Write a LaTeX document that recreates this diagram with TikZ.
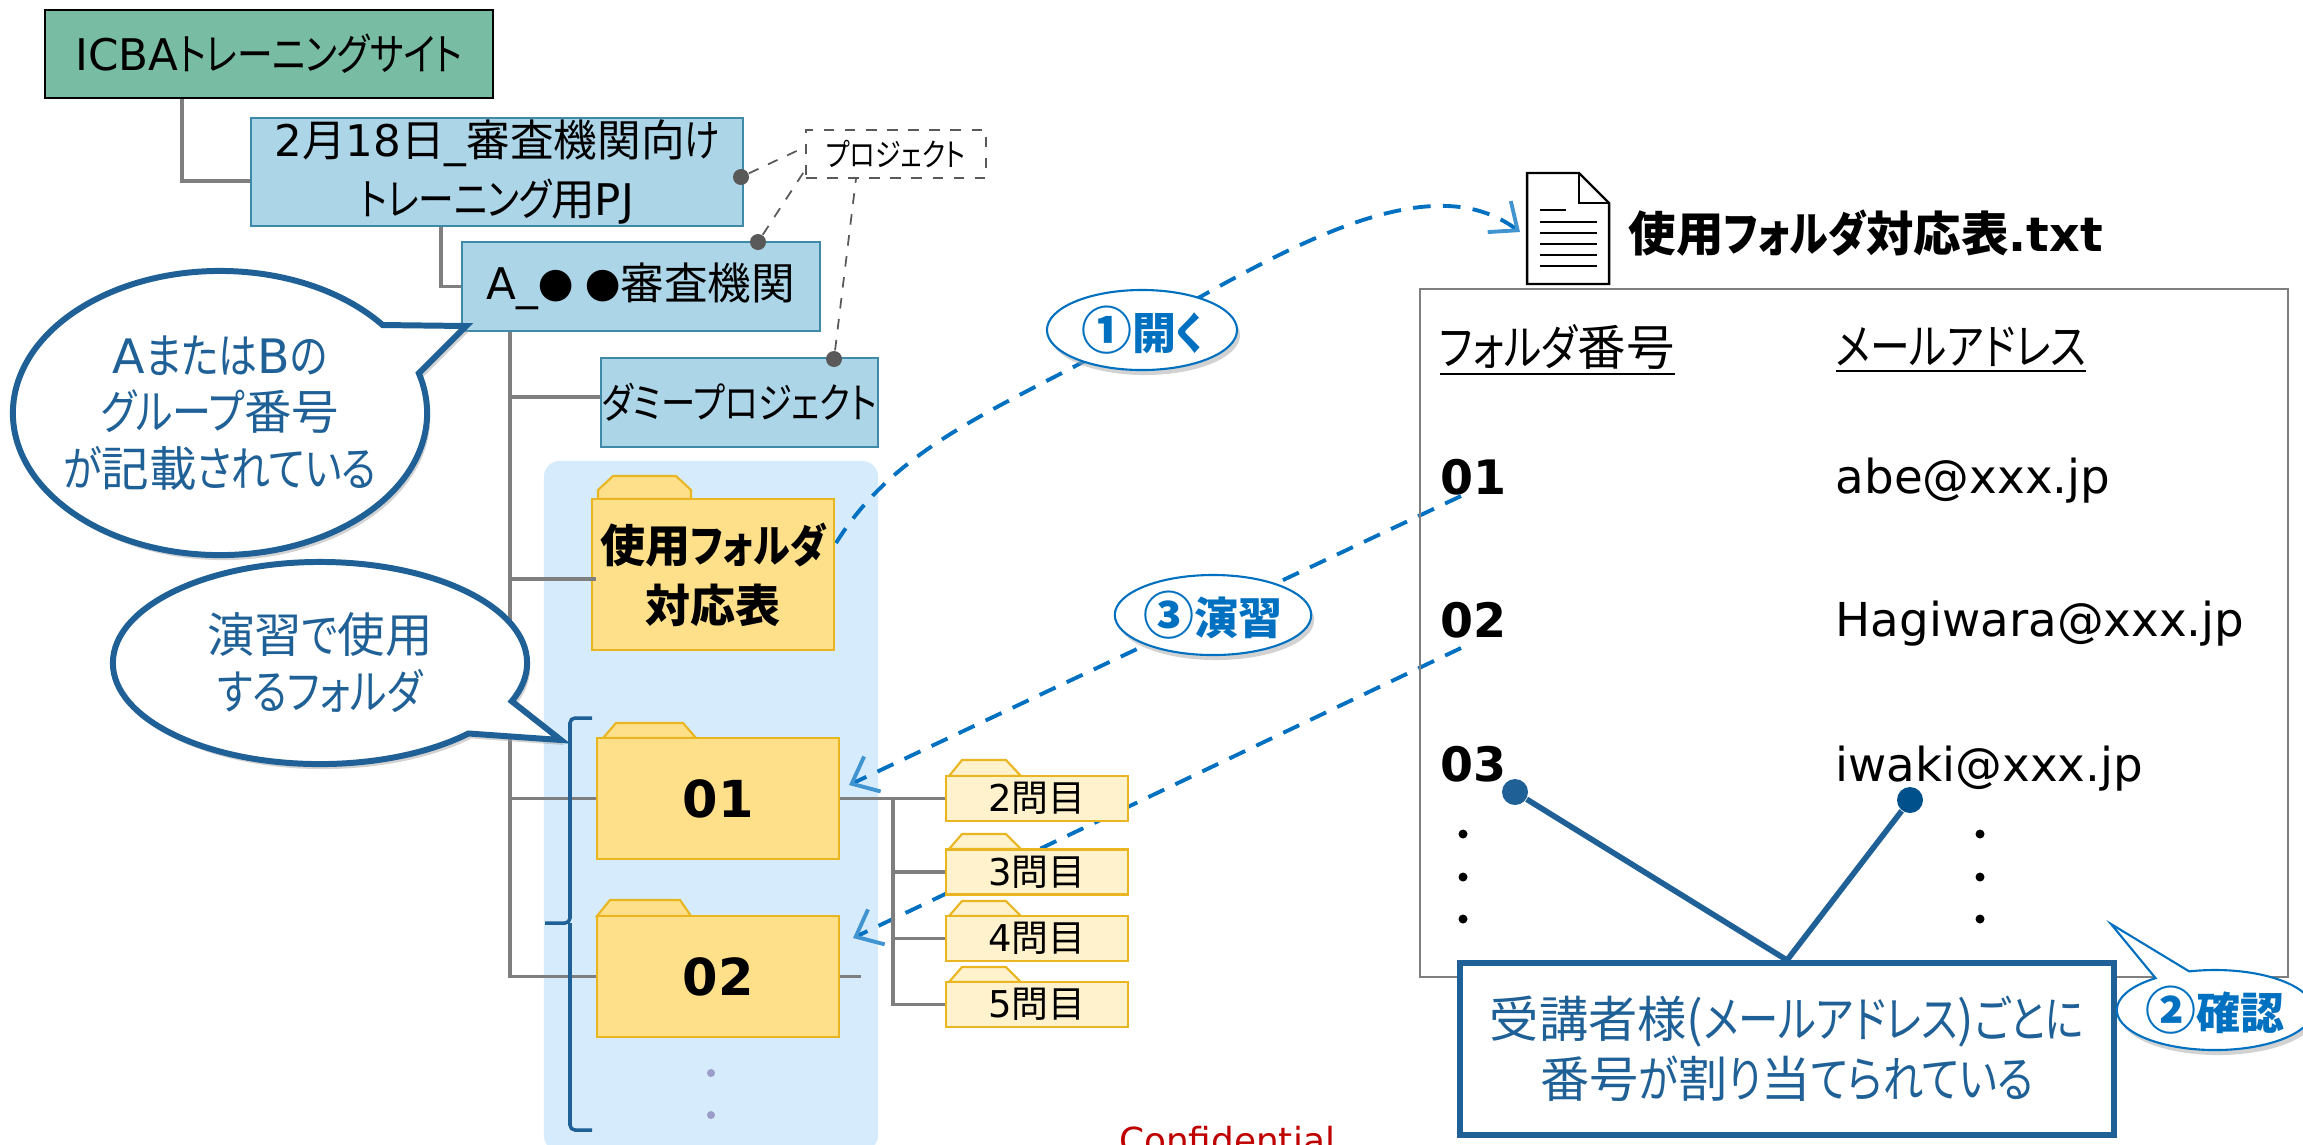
\documentclass[tikz,border=0pt]{standalone}
\usepackage{fontspec}
\setmainfont{Noto Sans CJK JP}[RawFeature=+palt]
\newfontfamily\vd{DejaVu Sans}
\newfontfamily\ka{Noto Sans CJK JP}[FakeStretch=0.82,RawFeature=+palt]
\usepackage{tikz}
\usetikzlibrary{positioning,arrows.meta,shapes.callouts,shapes.geometric,shadows}
\definecolor{treegray}{HTML}{7F7F7F}
\definecolor{notegray}{HTML}{595959}
\definecolor{icbagreen}{HTML}{78BCA4}
\definecolor{pjblue}{HTML}{ADD5E8}
\definecolor{pjedge}{HTML}{3F8AA8}
\definecolor{panelblue}{HTML}{D6EBFC}
\definecolor{foldergold}{HTML}{E9B520}
\definecolor{folderfill}{HTML}{FFE08A}
\definecolor{foldersoft}{HTML}{FFF2CC}
\definecolor{noteblue}{HTML}{1F6096}
\definecolor{markblue}{HTML}{00508C}
\definecolor{stepblue}{HTML}{0070C0}

\begin{document}
\begin{tikzpicture}[x=0.01cm,y=-0.01cm,
	treeline/.style={draw=treegray,line width=1pt},
	pjbox/.style={rectangle,draw=pjedge,fill=pjblue,line width=0.5pt,inner sep=0pt,align=center,font=\fontsize{12.4}{16.6}\selectfont},
	pjdot/.style={circle,fill=notegray,inner sep=0pt,minimum size=0.16cm},
	pjnote/.style={draw=notegray,dashed,line width=0.5pt},
	bigfolder/.style={rectangle,draw=foldergold,fill=folderfill,line width=0.6pt,inner sep=0pt,minimum width=2.42cm,align=center},
	smallfolder/.style={rectangle,draw=foldergold,fill=foldersoft,line width=0.6pt,inner sep=0pt,minimum width=1.82cm,minimum height=0.45cm,font=\fontsize{10.5}{12}\selectfont},
	bigtab/.style={draw=foldergold,fill=folderfill,line width=0.6pt},
	smalltab/.style={draw=foldergold,fill=foldersoft,line width=0.6pt},
	bubble/.style={ellipse callout,draw=noteblue,fill=white,line width=1.7pt,inner xsep=-0.6cm,inner ysep=0pt,callout pointer arc=22,text=noteblue,align=center,font=\fontsize{13.5}{16.2}\selectfont,drop shadow={shadow xshift=0.03cm,shadow yshift=-0.05cm,fill=gray!70}},
	stepbubble/.style={ellipse,draw=stepblue,fill=white,line width=0.6pt,inner sep=0pt,callout pointer arc=22,minimum width=1.9cm,minimum height=0.8cm,text=stepblue,font=\bfseries\fontsize{12.5}{14}\selectfont,drop shadow={shadow xshift=0.03cm,shadow yshift=-0.05cm,fill=gray!70}},
	stepline/.style={draw=stepblue,dash pattern=on 5pt off 3.5pt,line width=1.1pt,-{Straight Barb[length=6.5pt,width=11pt,color=stepblue!75!white,line width=1.1pt]}},
	tabletext/.style={anchor=west,inner sep=0pt,font=\fontsize{13.8}{15}\selectfont},
	tabledot/.style={circle,fill=black,inner sep=0pt,minimum size=0.09cm},
	markdot/.style={circle,fill=noteblue,inner sep=0pt,minimum size=0.26cm},
	markline/.style={draw=noteblue,line width=1.6pt}]

	\useasboundingbox (0,0) rectangle (2303,1144);

	% panel behind the folders
	\node [rectangle,fill=panelblue,rounded corners=0.16cm,inner sep=0pt,minimum width=3.34cm,minimum height=6.90cm] (panel) at (711,806) {};

	% tree of projects
	\node [pjbox,fill=icbagreen,draw=black,minimum width=4.48cm,minimum height=0.88cm] (icba) at (269,54) {{\vd ICBA}{\ka トレーニングサイト}};
	\node [pjbox,minimum width=4.92cm,minimum height=1.08cm] (pj) at (497,172) {{\vd 2}月{\vd 18}日{\vd\_}審査機関向{\ka け}\\{\ka トレーニング}用{\vd PJ}};
	\node [pjbox,minimum width=3.58cm,minimum height=0.89cm] (agency) at (641,286.5) {{\vd A\_}{\fontsize{10}{12}\selectfont ●\,\,●}審査機関};
	\node [pjbox,minimum width=2.77cm,minimum height=0.89cm,font=\ka\fontsize{11.9}{14}\selectfont] (dummy) at (739.5,402.5) {ダミープロジェクト};
	\node [rectangle,draw=notegray,dashed,fill=white,line width=0.5pt,inner sep=0pt,minimum width=1.80cm,minimum height=0.48cm,font=\ka\fontsize{9}{10}\selectfont] (pjlabel) at (896,154) {プロジェクト};

	\node [pjdot] (dot1) at (741,177) {};
	\node [pjdot] (dot2) at (758,242) {};
	\node [pjdot] (dot3) at (834,359) {};
	\draw [pjnote] (dot1) to ([yshift=0.07cm]pjlabel.west);
	\draw [pjnote] (dot2) to ([yshift=-0.16cm]pjlabel.west);
	\draw [pjnote] (dot3) to ([xshift=-0.40cm]pjlabel.south);

	% dashed steps, under the small folders
	\coordinate (open0) at (836,543);
	\coordinate (open1) at (1142,330);
	\coordinate (open2) at (1520,232);
	\coordinate (row1) at (1461,496);
	\coordinate (row2) at (1461,648);
	\coordinate (hit1) at (849,785);
	\coordinate (hit2) at (853,938);
	\draw [stepline,-] (open0) .. controls (900,440) and (1010,405) .. (open1);
	\draw [stepline] (open1) .. controls (1290,245) and (1430,165) .. (open2);
	\draw [stepline] (row1) to (hit1);
	\draw [stepline] (row2) to (hit2);

	% folders
	\draw [bigtab] (598,499) -- (598,490) -- (613,476) -- (676,476) -- (691,490) -- (691,499) -- cycle;
	\node [bigfolder,minimum height=1.51cm,font=\bfseries\fontsize{12.8}{17}\selectfont] (usefolder) at (713,574.5) {使用{\ka フォルダ}\\対応表};
	\draw [bigtab] (603,738) -- (616,723) -- (683,723) -- (696,738) -- cycle;
	\node [bigfolder,minimum height=1.21cm,font=\vd\bfseries\fontsize{14.5}{18}\selectfont] (f01) at (718,798.5) {01};
	\draw [bigtab] (597,916) -- (610,900) -- (680,900) -- (691,916) -- cycle;
	\node [bigfolder,minimum height=1.21cm,font=\vd\bfseries\fontsize{14.5}{18}\selectfont] (f02) at (718,976.5) {02};

	\draw [smalltab] (949,776) -- (962,760) -- (1006,760) -- (1021,776) -- cycle;
	\node [smallfolder] (q2) at (1037,798.5) {{\vd 2}問目};
	\draw [smalltab] (949,849) -- (962,834) -- (1006,834) -- (1021,849) -- cycle;
	\node [smallfolder] (q3) at (1037,872) {{\vd 3}問目};
	\draw [smalltab] (949,916) -- (962,901) -- (1006,901) -- (1021,916) -- cycle;
	\node [smallfolder] (q4) at (1037,938.5) {{\vd 4}問目};
	\draw [smalltab] (949,982) -- (962,967) -- (1006,967) -- (1021,982) -- cycle;
	\node [smallfolder] (q5) at (1037,1004.5) {{\vd 5}問目};

	\coordinate (stub) at (861,976.5);

	\draw [treeline] ([xshift=-0.87cm]icba.south) |- ([yshift=-0.09cm]pj.west);
	\draw [treeline] ([xshift=-0.56cm]pj.south) |- (agency.west);
	\draw [treeline] ([xshift=-1.31cm]agency.south) |- (f02.west);
	\draw [treeline] ([xshift=-1.31cm]agency.south) |- ([yshift=0.055cm]dummy.west);
	\draw [treeline] ([xshift=-1.31cm]agency.south) |- ([xshift=0.05cm,yshift=-0.045cm]usefolder.west);
	\draw [treeline] ([xshift=-1.31cm]agency.south) |- (f01.west);
	\draw [treeline] (f01.east) to (q2.west);
	\draw [treeline] ([xshift=0.53cm]f01.east) |- (q3.west);
	\draw [treeline] ([xshift=0.53cm]f01.east) |- (q4.west);
	\draw [treeline] ([xshift=0.53cm]f01.east) |- (q5.west);
	\draw [treeline] (f02.east) to (stub);

	% brace and the two dots under the folders
	\coordinate (bracetop) at (592,718);
	\coordinate (bracebot) at (592,1130);
	\coordinate (bracetip) at (545,923);
	\draw [draw=noteblue,line width=1pt,rounded corners=0.05cm] (bracetop) -| (570,923) -- (bracetip);
	\draw [draw=noteblue,line width=1pt,rounded corners=0.05cm] (bracebot) -| (570,923);
	\node [circle,fill=gray!70!blue!60,inner sep=0pt,minimum size=0.08cm] (more1) at (711,1073) {};
	\node [circle,fill=gray!70!blue!60,inner sep=0pt,minimum size=0.08cm] (more2) at (711,1115) {};

	% speech bubbles
	\coordinate (tipa) at (466,326);
	\coordinate (tipb) at (561,740);
	\node [bubble,minimum width=4.14cm,minimum height=2.84cm,callout absolute pointer={(tipa)}] (groupnote) at (220,413) {{\vd A}{\ka または}{\vd B}{\ka の}\\{\ka グループ}番号\\{\ka が}記載{\ka されている}};
	\node [bubble,minimum width=4.14cm,minimum height=2.02cm,callout absolute pointer={(tipb)}] (usenote) at (320,663) {演習{\ka で}使用\\{\ka するフォルダ}};

	% file and table
	\draw [draw=black,fill=white,line width=0.7pt] (1527,173) -- (1579,173) -- (1609,203) -- (1609,284) -- (1527,284) -- cycle;
	\draw [draw=black,line width=0.5pt] (1579,173) -- (1579,203) -- (1609,203);
	\draw [draw=black,line width=0.6pt] (1540,210) -- (1566,210) (1540,222) -- (1597,222) (1540,233) -- (1597,233) (1540,244) -- (1597,244) (1540,255) -- (1597,255) (1540,266) -- (1597,266);
	\node [anchor=west,inner sep=0pt,font=\bfseries\fontsize{13.5}{16}\selectfont] (filename) at (1628,233) {使用{\ka フォルダ}対応表{\vd .txt}};

	\node [rectangle,draw=treegray,line width=0.6pt,inner sep=0pt,minimum width=8.68cm,minimum height=6.87cm] (table) at (1854,633) {};

	\node [tabletext] (headno) at (1439,350) {\underline{{\ka フォルダ}番号}};
	\node [tabletext] (headmail) at (1835,350) {\underline{\ka メールアドレス}};
	\node [tabletext,font=\vd\bfseries\fontsize{13.5}{15}\selectfont] (no1) at (1440,477) {01};
	\node [tabletext,font=\vd\bfseries\fontsize{13.5}{15}\selectfont] (no2) at (1440,620) {02};
	\node [tabletext,font=\vd\bfseries\fontsize{13.5}{15}\selectfont] (no3) at (1440,764) {03};
	\node [tabletext,font=\vd\fontsize{13.3}{15}\selectfont] (mail1) at (1835,481) {abe@xxx.jp};
	\node [tabletext,font=\vd\fontsize{13.3}{15}\selectfont] (mail2) at (1835,624) {Hagiwara@xxx.jp};
	\node [tabletext,font=\vd\fontsize{13.3}{15}\selectfont] (mail3) at (1835,769) {iwaki@xxx.jp};

	\foreach \i/\y in {1/834,2/877,3/919} {
		\node [tabledot] (left\i) at (1463,\y) {};
		\node [tabledot] (right\i) at (1980,\y) {};
	}

	% note box with its two marks
	\node [rectangle,draw=noteblue,fill=white,line width=1.6pt,inner sep=0pt,minimum width=6.54cm,minimum height=1.72cm,align=center,text=noteblue,font=\fontsize{14}{17}\selectfont] (note) at (1787,1049) {受講者様({\ka メールアドレス}){\ka ごとに}\\番号{\ka が}割{\ka り}当{\ka てられている}};
	\node [markdot] (mark1) at (1515,792) {};
	\node [markdot,fill=markblue] (mark2) at (1910,800) {};
	\draw [markline] (mark1) to (note.north);
	\draw [markline] (mark2) to (note.north);

	% step labels
	\coordinate (tipc) at (2111,924);
	\node [stepbubble] (step1) at (1142,330) {{\fontsize{14.5}{14}\selectfont ①}開{\ka く}};
	\node [stepbubble] (step3) at (1213,615) {{\fontsize{14.5}{14}\selectfont ③}演習};
	\node [stepbubble,ellipse callout,callout absolute pointer={(tipc)}] (step2) at (2215,1010) {{\fontsize{14.5}{14}\selectfont ②}確認};

	\node [text=red!75!black,inner sep=0pt,font=\vd\fontsize{10.2}{12}\selectfont] (conf) at (1227,1140) {Confidential};

\end{tikzpicture}
\end{document}
